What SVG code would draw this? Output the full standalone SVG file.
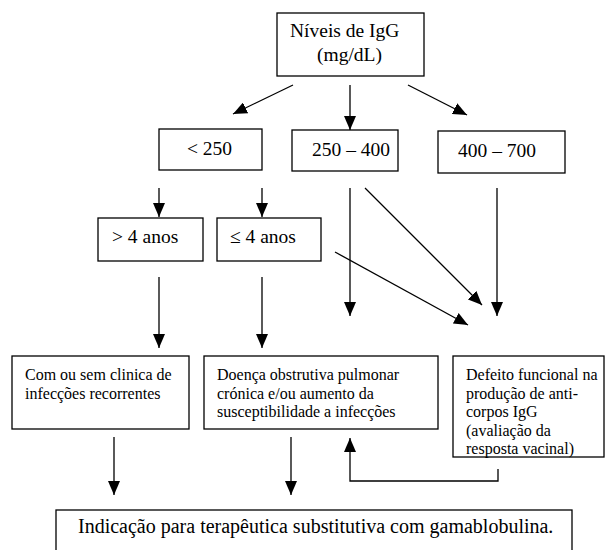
<svg xmlns="http://www.w3.org/2000/svg" width="606" height="550" viewBox="0 0 606 550">
<style>
.box{fill:#fff;stroke:#000;stroke-width:1.3}
.big{font-family:"Liberation Serif","Times New Roman",serif;font-size:19.5px;fill:#000}
.sm{font-family:"Liberation Serif","Times New Roman",serif;font-size:16px;fill:#000}
.bt{font-family:"Liberation Serif","Times New Roman",serif;font-size:20px;fill:#000}
.ln{fill:none;stroke:#000;stroke-width:1.3}
</style>
<defs>
<marker id="ah" markerUnits="userSpaceOnUse" markerWidth="14" markerHeight="12" refX="14" refY="6" orient="auto">
<path d="M0,0 L14,6 L0,12 z" fill="#000"/>
</marker>
</defs>
<rect width="606" height="550" fill="#fff"/>
<g id="connectors">
<line class="ln" x1="293" y1="85" x2="233" y2="114" marker-end="url(#ah)"/>
<line class="ln" x1="350" y1="85" x2="350" y2="130" marker-end="url(#ah)"/>
<line class="ln" x1="408" y1="85" x2="467" y2="115" marker-end="url(#ah)"/>
<line class="ln" x1="159" y1="188" x2="159" y2="217" marker-end="url(#ah)"/>
<line class="ln" x1="262" y1="188" x2="262" y2="217" marker-end="url(#ah)"/>
<line class="ln" x1="350" y1="188" x2="350" y2="316" marker-end="url(#ah)"/>
<line class="ln" x1="365" y1="188" x2="482" y2="305" marker-end="url(#ah)"/>
<line class="ln" x1="497" y1="188" x2="497" y2="316" marker-end="url(#ah)"/>
<line class="ln" x1="335" y1="252" x2="468" y2="325" marker-end="url(#ah)"/>
<line class="ln" x1="159" y1="277" x2="159" y2="348" marker-end="url(#ah)"/>
<line class="ln" x1="262" y1="277" x2="262" y2="348" marker-end="url(#ah)"/>
<line class="ln" x1="114" y1="437" x2="114" y2="495" marker-end="url(#ah)"/>
<line class="ln" x1="291" y1="437" x2="291" y2="495" marker-end="url(#ah)"/>
<polyline class="ln" points="498,469 498,481 350,481 350,438" marker-end="url(#ah)"/>
</g>
<g id="n-igg">
<rect class="box" x="277" y="13" width="147" height="63"/>
<text class="big" x="290" y="37">Níveis de IgG</text>
<text class="big" x="317" y="61">(mg/dL)</text>
</g>
<g id="n-lt250">
<rect class="box" x="159" y="129" width="103" height="41"/>
<text class="big" x="187" y="155">&lt; 250</text>
</g>
<g id="n-250-400">
<rect class="box" x="292" y="130" width="106" height="41"/>
<text class="big" x="312" y="156">250 – 400</text>
</g>
<g id="n-400-700">
<rect class="box" x="438" y="131" width="127" height="42"/>
<text class="big" x="458" y="157">400 – 700</text>
</g>
<g id="n-gt4">
<rect class="box" x="98" y="218" width="105" height="43"/>
<text class="big" x="112" y="243">&gt; 4 anos</text>
</g>
<g id="n-le4">
<rect class="box" x="217" y="218" width="104" height="43"/>
<text class="big" x="230" y="243">≤ 4 anos</text>
</g>
<g id="n-clinica">
<rect class="box" x="12" y="356" width="177" height="73"/>
<text class="sm" x="25" y="380">Com ou sem clinica de</text>
<text class="sm" x="25" y="398.5">infecções recorrentes</text>
</g>
<g id="n-doenca">
<rect class="box" x="204" y="356" width="234" height="73"/>
<text class="sm" x="217" y="380">Doença obstrutiva pulmonar</text>
<text class="sm" x="217" y="398.5">crónica e/ou aumento da</text>
<text class="sm" x="217" y="417">susceptibilidade a infecções</text>
</g>
<g id="n-defeito">
<rect class="box" x="453" y="356" width="151" height="101"/>
<text class="sm" x="466" y="380">Defeito funcional na</text>
<text class="sm" x="466" y="398.5">produção de anti-</text>
<text class="sm" x="466" y="417">corpos IgG</text>
<text class="sm" x="466" y="435.5">(avaliação da</text>
<text class="sm" x="466" y="454">resposta vacinal)</text>
</g>
<g id="n-indicacao">
<rect class="box" x="56" y="510" width="516" height="50"/>
<text class="bt" x="78" y="533">Indicação para terapêutica substitutiva com gamablobulina.</text>
</g>
</svg>
